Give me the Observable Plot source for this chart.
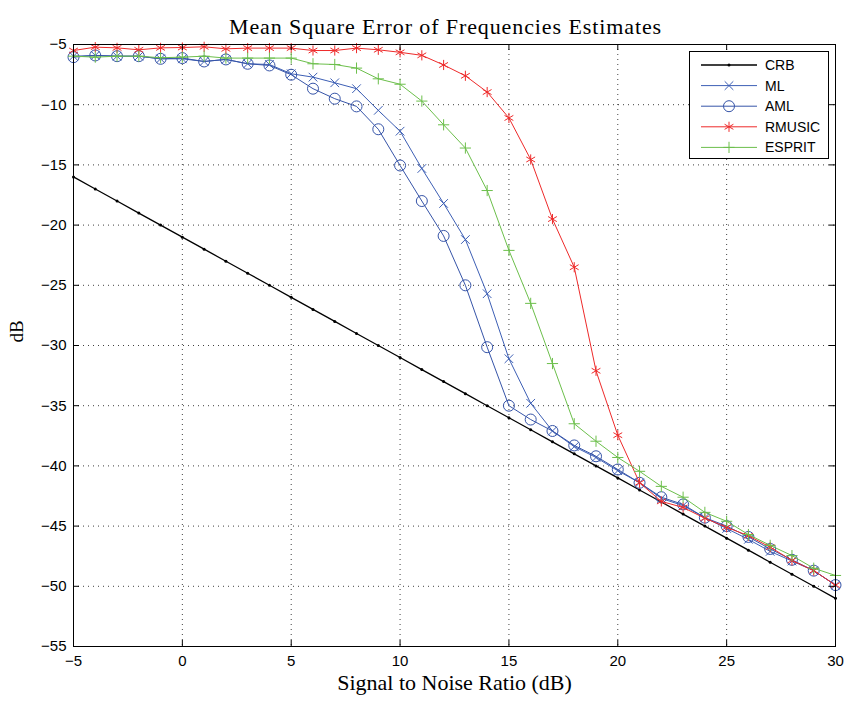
<!DOCTYPE html>
<html>
<head>
<meta charset="utf-8">
<script src="https://cdn.jsdelivr.net/npm/d3@7"></script>
<script src="https://cdn.jsdelivr.net/npm/@observablehq/plot@0.6"></script>
<style>
  html, body { margin: 0; padding: 0; background: #fff; }
  #wrap { position: relative; width: 845px; height: 708px; }
  #legend { position: absolute; left: 0; top: 0; }
</style>
</head>
<body>
<div id="wrap"></div>
<script>
// ---- data ----
const snr = [-5,-4,-3,-2,-1,0,1,2,3,4,5,6,7,8,9,10,11,12,13,14,15,16,17,18,19,20,21,22,23,24,25,26,27,28,29,30];
const crb = [-16,-17,-18,-19,-20,-21,-22,-23,-24,-25,-26,-27,-28,-29,-30,-31,-32,-33,-34,-35,-36,-37,-38,-39,-40,-41,-42,-43,-44,-45,-46,-47,-48,-49,-50,-51];
const ml = [-5.97,-5.91,-5.97,-5.97,-6.19,-6.19,-6.41,-6.24,-6.6,-6.66,-7.43,-7.71,-8.18,-8.67,-10.47,-12.2,-15.3,-18.2,-21.2,-25.7,-31.1,-34.8,-37.1,-38.4,-39.3,-40.4,-41.4,-42.7,-43.3,-44.3,-45.2,-46.1,-47.1,-47.9,-48.7,-49.9];
const aml = [-6.05,-5.91,-5.97,-5.97,-6.19,-6.13,-6.41,-6.24,-6.6,-6.74,-7.51,-8.67,-9.5,-10.14,-12.04,-15.05,-18.0,-20.9,-25.0,-30.14,-35.0,-36.15,-37.1,-38.3,-39.2,-40.3,-41.4,-42.6,-43.2,-44.3,-45.0,-45.9,-46.9,-47.8,-48.7,-49.9];
const rmusic = [-5.5,-5.22,-5.28,-5.44,-5.28,-5.25,-5.19,-5.36,-5.3,-5.3,-5.3,-5.5,-5.5,-5.3,-5.44,-5.65,-5.9,-6.7,-7.6,-8.95,-11.1,-14.55,-19.5,-23.5,-32.1,-37.45,-41.4,-42.95,-43.45,-44.35,-45.1,-45.8,-46.75,-47.85,-48.7,-49.9];
const esprit = [-5.97,-6.05,-5.97,-5.97,-6.1,-6.05,-5.97,-6.13,-6.13,-6.13,-6.13,-6.6,-6.66,-6.96,-7.85,-8.3,-9.7,-11.67,-13.6,-17.13,-22.1,-26.5,-31.5,-36.5,-37.95,-39.3,-40.45,-41.7,-42.6,-43.86,-44.6,-45.7,-46.6,-47.45,-48.5,-49.1];
const xTicks = [-5,0,5,10,15,20,25,30];
const yTicks = [-55,-50,-45,-40,-35,-30,-25,-20,-15,-10,-5];
const seriesNames = ["CRB","ML","AML","RMUSIC","ESPRIT"];
const titleText = "Mean Square Error of Frequencies Estimates";
const xLabel = "Signal to Noise Ratio (dB)";
const yLabel = "dB";

// ---- styles ----
const colors = {CRB:"#000000", ML:"#3d5fb5", AML:"#3654a8", RMUSIC:"#ee2a2a", ESPRIT:"#6cbf4b"};
const symbols = {CRB:"circle", ML:"times", AML:"circle", RMUSIC:"asterisk", ESPRIT:"plus"};
const sizes = {CRB:1.5, ML:4, AML:5.5, RMUSIC:4.8, ESPRIT:3.7};
const widths = {CRB:1.3, ML:1, AML:1, RMUSIC:1, ESPRIT:1};

const valuesBy = {CRB:crb, ML:ml, AML:aml, RMUSIC:rmusic, ESPRIT:esprit};
const rows = [];
for (const name of seriesNames) valuesBy[name].forEach((v, i) => rows.push({name, snr: snr[i], db: v}));

const W = 845, H = 708, mL = 73, mR = 10, mT = 44, mB = 62;
const fw = W - mL - mR, fh = H - mT - mB;
const grid = {stroke:"#000", strokeOpacity:0.75, strokeDasharray:"1,4", strokeWidth:1};
const serif = "'Liberation Serif', 'DejaVu Serif', serif";

const marks = [
  Plot.gridX(xTicks, grid),
  Plot.gridY(yTicks, grid),
];
for (const name of seriesNames) {
  const d = rows.filter(r => r.name === name);
  marks.push(Plot.line(d, {x:"snr", y:"db", stroke: colors[name], strokeWidth: widths[name]}));
  if (name === "CRB") {
    marks.push(Plot.dot(d, {x:"snr", y:"db", fill: colors[name], r: sizes[name]}));
  } else {
    marks.push(Plot.dot(d, {x:"snr", y:"db", stroke: colors[name], symbol: symbols[name], r: sizes[name], strokeWidth: 1}));
  }
}
marks.push(
  Plot.frame({stroke:"#000", strokeWidth:1}),
  Plot.tickX(xTicks, {x: d => d, insetTop: fh - 6, stroke:"#000"}),
  Plot.tickX(xTicks, {x: d => d, insetBottom: fh - 6, stroke:"#000"}),
  Plot.tickY(yTicks, {y: d => d, insetRight: fw - 6, stroke:"#000"}),
  Plot.tickY(yTicks, {y: d => d, insetLeft: fw - 6, stroke:"#000"}),
  Plot.axisX(xTicks, {anchor:"bottom", tickSize:0, tickPadding:9, label:null, fontSize:15}),
  Plot.axisY(yTicks, {anchor:"left", tickSize:0, tickPadding:7, label:null, fontSize:15}),
  Plot.text([yLabel], {frameAnchor:"left", dx:-57, dy:-3, rotate:-90, fontFamily: serif, fontSize:19, fill:"#000"})
);

const chart = Plot.plot({
  width: W, height: H,
  marginLeft: mL, marginRight: mR, marginTop: mT, marginBottom: mB,
  x: {domain: [-5, 30], axis: null},
  y: {domain: [-55, -5], axis: null},
  style: {fontFamily: "'Liberation Sans', Arial, sans-serif", fontSize: "15px", color: "#000", background: "#fff"},
  marks: [
    ...marks,
    Plot.text([titleText], {frameAnchor:"top", dy:-26, dx:-9, fontFamily: serif, fontSize:22, fill:"#000"}),
    Plot.text([xLabel], {frameAnchor:"bottom", dy:43, fontFamily: serif, fontSize:22, fill:"#000"})
  ]
});
const wrap = document.getElementById("wrap");
wrap.appendChild(chart);
// widen the title slightly to match the reference's wider serif face
d3.select(chart).selectAll("text").filter(function() { return this.textContent === titleText; })
  .attr("letter-spacing", "0.9px");

// ---- legend overlay ----
const lg = d3.select(wrap).append("svg").attr("id","legend").attr("width", W).attr("height", H);
const bx = 689, by = 51, bw = 139, bh = 107;
lg.append("rect").attr("x", bx + 0.5).attr("y", by + 0.5).attr("width", bw).attr("height", bh)
  .attr("fill", "#fff").attr("stroke", "#000").attr("stroke-width", 1);
const symMap = {circle: d3.symbolCircle, times: d3.symbolTimes, asterisk: d3.symbolAsterisk, plus: d3.symbolPlus};
seriesNames.forEach((name, i) => {
  const y = 65 + i * 20.6;
  const g = lg.append("g");
  g.append("line").attr("x1", 701).attr("x2", 757).attr("y1", y).attr("y2", y)
    .attr("stroke", colors[name]).attr("stroke-width", widths[name]);
  const r = name === "CRB" ? 1.5 : sizes[name];
  const path = d3.symbol(symMap[symbols[name]], Math.PI * r * r)();
  const p = g.append("path").attr("d", path).attr("transform", `translate(729,${y})`);
  if (name === "CRB") p.attr("fill", "#000");
  else p.attr("fill", "none").attr("stroke", colors[name]).attr("stroke-width", 1);
  g.append("text").attr("x", 765).attr("y", y).attr("dy", "0.35em")
    .attr("font-family", "'Liberation Sans', Arial, sans-serif").attr("font-size", 14).text(name);
});
</script>
</body>
</html>
